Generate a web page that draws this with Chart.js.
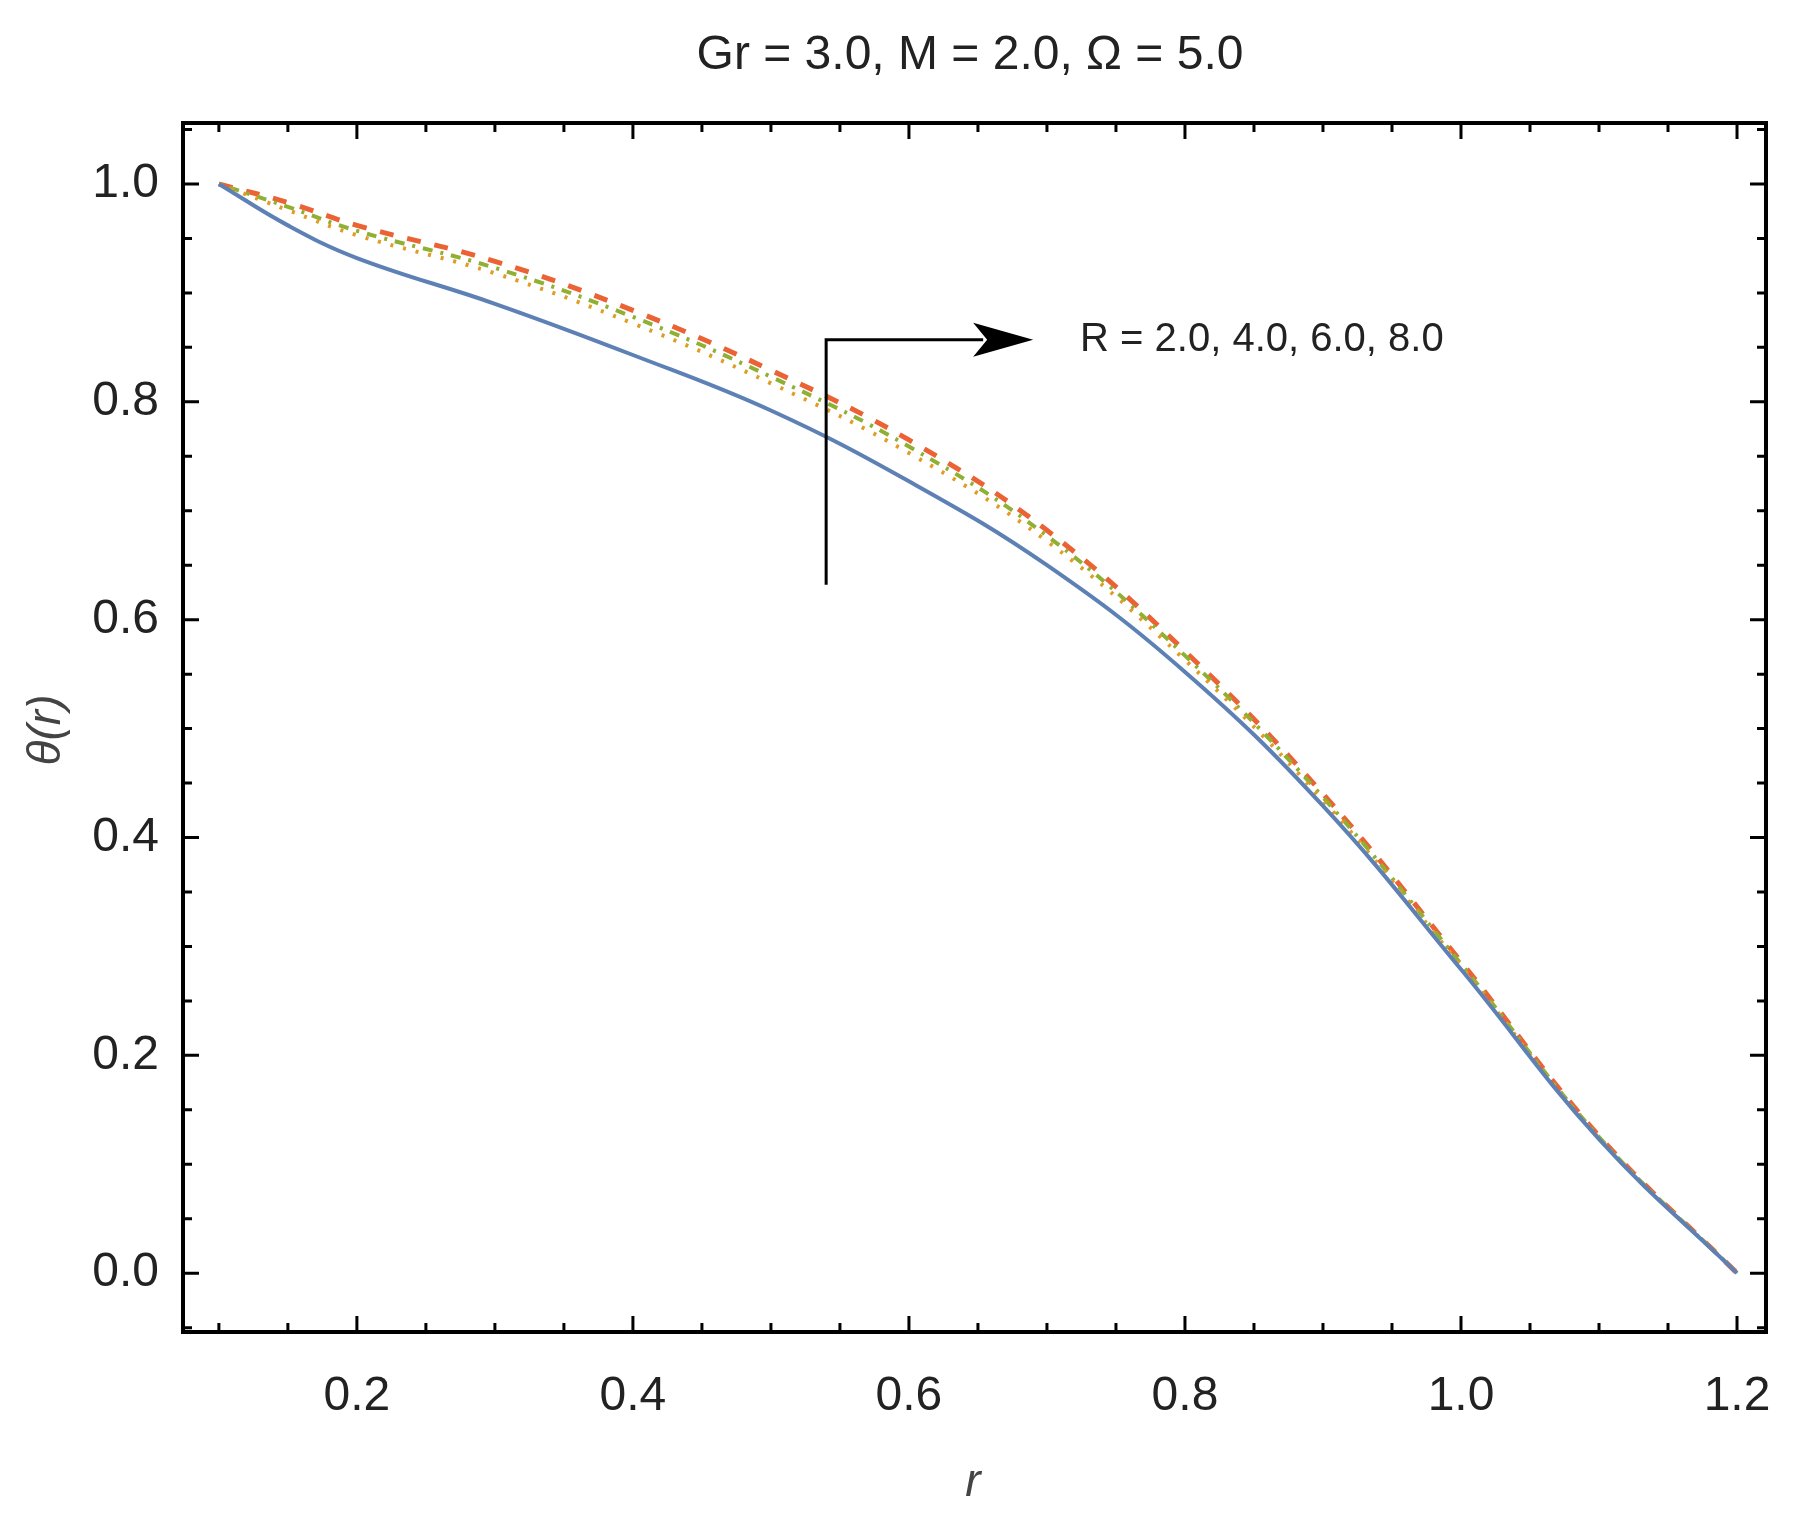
<!DOCTYPE html>
<html>
<head>
<meta charset="utf-8">
<script src="https://cdn.jsdelivr.net/npm/chart.js@4"></script>
<style>
  body { margin: 0; background: #fff; }
  #wrap { width: 1811px; height: 1515px; }
</style>
</head>
<body>
<div id="wrap"><canvas id="c"></canvas></div>
<script>
const rValues = [0.1, 0.15, 0.2, 0.3, 0.4, 0.5, 0.6, 0.7, 0.8, 0.9, 1.0, 1.1, 1.2]
const thetaR2 = [1.0, 0.962, 0.932, 0.890, 0.843, 0.792, 0.727, 0.650, 0.552, 0.429, 0.279, 0.123, 0.0]
const thetaR4 = [1.0, 0.976, 0.953, 0.918, 0.872, 0.817, 0.753, 0.672, 0.563, 0.434, 0.282, 0.124, 0.0]
const thetaR6 = [1.0, 0.979, 0.957, 0.923, 0.878, 0.823, 0.759, 0.677, 0.567, 0.437, 0.284, 0.125, 0.0]
const thetaR8 = [1.0, 0.983, 0.962, 0.929, 0.884, 0.829, 0.765, 0.682, 0.571, 0.440, 0.286, 0.126, 0.0]
const xTicks = [0.2, 0.4, 0.6, 0.8, 1.0, 1.2]
const yTicks = [0.0, 0.2, 0.4, 0.6, 0.8, 1.0]
const arrowPath = [[0.54, 0.632], [0.54, 0.857], [0.69, 0.857]]
const arrowLabel = "R = 2.0, 4.0, 6.0, 8.0"

function pts(ys) {
    return rValues.map((x, i) => ({ x: x, y: ys[i] }))
}

function line(label, ys, color, dash, width) {
    return {
        label: label,
        data: pts(ys),
        borderColor: color,
        borderWidth: width,
        borderDash: dash,
        pointRadius: 0,
        tension: 0.4,
        fill: false
    }
}

const FONT = '"Liberation Sans Narrow", "Liberation Sans", sans-serif'

const frame = {
    id: 'frame',
    afterDraw(chart) {
        const ctx = chart.ctx
        const a = chart.chartArea
        const xs = chart.scales.x
        const ys = chart.scales.y
        ctx.save()
        ctx.strokeStyle = '#000'
        ctx.lineWidth = 4
        ctx.strokeRect(a.left, a.top, a.right - a.left, a.bottom - a.top)

        // ticks inside on all sides
        ctx.lineWidth = 3
        for (let v = 0.1; v <= 1.2001; v += 0.05) {
            const px = xs.getPixelForValue(v)
            const major = xTicks.some(t => Math.abs(t - v) < 1e-6)
            const len = major ? 16 : 9
            ctx.beginPath()
            ctx.moveTo(px, a.bottom); ctx.lineTo(px, a.bottom - len)
            ctx.moveTo(px, a.top); ctx.lineTo(px, a.top + len)
            ctx.stroke()
        }
        for (let v = -0.05; v <= 1.0501; v += 0.05) {
            const py = ys.getPixelForValue(v)
            const major = yTicks.some(t => Math.abs(t - v) < 1e-6)
            const len = major ? 16 : 9
            ctx.beginPath()
            ctx.moveTo(a.left, py); ctx.lineTo(a.left + len, py)
            ctx.moveTo(a.right, py); ctx.lineTo(a.right - len, py)
            ctx.stroke()
        }

        // arrow annotation
        const p = arrowPath.map(q => [xs.getPixelForValue(q[0]), ys.getPixelForValue(q[1])])
        ctx.lineWidth = 3
        ctx.beginPath()
        ctx.moveTo(p[0][0], p[0][1])
        ctx.lineTo(p[1][0], p[1][1])
        ctx.lineTo(p[2][0] - 50, p[2][1])
        ctx.stroke()
        ctx.fillStyle = '#000'
        ctx.beginPath()
        ctx.moveTo(p[2][0], p[2][1])
        ctx.lineTo(p[2][0] - 60, p[2][1] - 17)
        ctx.lineTo(p[2][0] - 46, p[2][1])
        ctx.lineTo(p[2][0] - 60, p[2][1] + 17)
        ctx.closePath()
        ctx.fill()

        ctx.font = '40px ' + FONT
        ctx.textBaseline = 'middle'
        ctx.textAlign = 'left'
        ctx.fillStyle = '#222'
        ctx.fillText(arrowLabel, xs.getPixelForValue(0.724), ys.getPixelForValue(0.857))

        // title and axis labels
        ctx.textAlign = 'center'
        ctx.font = '48px ' + FONT
        ctx.fillText('Gr = 3.0, M = 2.0, \u03A9 = 5.0', 970, 56)
        ctx.font = 'italic 46px ' + FONT
        ctx.fillStyle = '#444'
        ctx.fillText('r', 973, 1483)
        ctx.translate(47, 730)
        ctx.rotate(-Math.PI / 2)
        ctx.fillText('\u03B8(r)', 0, 0)
        ctx.restore()
    }
}

new Chart(document.getElementById('c'), {
    type: 'line',
    data: {
        datasets: [
            line('R = 2.0', thetaR2, '#5E81B5', [], 4),
            line('R = 4.0', thetaR4, '#E19C24', [3, 10], 4),
            line('R = 6.0', thetaR6, '#8FB032', [3, 8, 10, 8], 4),
            line('R = 8.0', thetaR8, '#EB6235', [14, 14], 5)
        ]
    },
    options: {
        responsive: true,
        maintainAspectRatio: false,
        animation: false,
        layout: { padding: { top: 123, right: 45, left: 0, bottom: 0 } },
        plugins: { legend: { display: false }, tooltip: { enabled: false } },
        scales: {
            x: {
                type: 'linear',
                min: 0.074,
                max: 1.221,
                grid: { display: false },
                border: { display: false },
                afterFit(s) { s.height = 183 },
                afterBuildTicks(s) { s.ticks = xTicks.map(v => ({ value: v })) },
                ticks: {
                    padding: 28,
                    color: '#222',
                    font: { size: 48, family: FONT },
                    callback: v => v.toFixed(1)
                }
            },
            y: {
                min: -0.054,
                max: 1.056,
                grid: { display: false },
                border: { display: false },
                afterFit(s) { s.width = 183 },
                afterBuildTicks(s) { s.ticks = yTicks.map(v => ({ value: v })) },
                ticks: {
                    padding: 16,
                    color: '#222',
                    font: { size: 48, family: FONT },
                    callback: v => v.toFixed(1)
                }
            }
        }
    },
    plugins: [frame]
})
</script>
</body>
</html>
